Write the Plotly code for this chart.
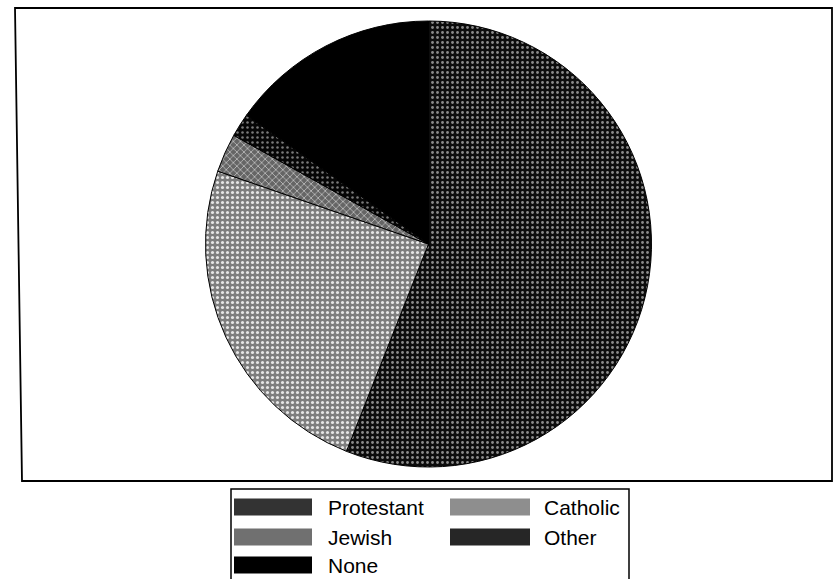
import plotly.graph_objects as go

W, H = 833, 579

# ---- data ----
labels = ["Protestant", "Catholic", "Jewish", "Other", "None"]
values = [56.0, 24.3, 2.8, 1.7, 15.2]

# ---- styles ----
bg_colors = ["#0c0c0c", "#7e7e7e", "#656565", "#060606", "#000000"]
fg_colors = ["#8a8a8a", "#e6e6e6", "#bdbdbd", "#7a7a7a", "#000000"]
shapes_pat = [".", ".", "x", ".", ""]
solid = [0.25, 0.3, 0.3, 0.2, 0.3]
swatch_fill = ["#333333", "#8e8e8e", "#707070", "#262626", "#000000"]


def px(x):
    return x / W


def py(y):
    return 1 - y / H


fig = go.Figure()
fig.add_trace(go.Pie(
    labels=labels,
    values=values,
    sort=False,
    direction="clockwise",
    rotation=0,
    textinfo="none",
    hoverinfo="label+percent",
    showlegend=False,
    marker=dict(
        colors=bg_colors,
        line=dict(color="black", width=1),
        pattern=dict(shape=shapes_pat, fgcolor=fg_colors, bgcolor=bg_colors,
                     size=5, solidity=solid, fillmode="replace"),
    ),
    domain=dict(x=[px(205.5), px(651.5)], y=[py(467), py(21)]),
))

shapes = []
# outer frame (slightly skewed like the scan)
shapes.append(dict(type="path", xref="paper", yref="paper",
                   path=f"M {px(15)},{py(8)} L {px(832)},{py(8)} L {px(832)},{py(481)} L {px(22)},{py(481)} Z",
                   line=dict(color="black", width=1.8)))
# legend box
shapes.append(dict(type="rect", xref="paper", yref="paper",
                   x0=px(231), x1=px(629), y0=py(489), y1=py(582),
                   line=dict(color="black", width=1.5)))

annotations = []
col_x = [(234, 312, 326), (450, 530, 542)]
row_y = [507, 537, 565]
for i, lab in enumerate(labels):
    r, c = divmod(i, 2)
    sx0, sx1, tx = col_x[c]
    yc = row_y[r]
    shapes.append(dict(type="rect", xref="paper", yref="paper",
                       x0=px(sx0), x1=px(sx1), y0=py(yc + 8.5), y1=py(yc - 8.5),
                       fillcolor=swatch_fill[i], line=dict(width=0)))
    annotations.append(dict(x=px(tx), y=py(yc), xref="paper", yref="paper",
                            text=lab, showarrow=False, xanchor="left", yanchor="middle",
                            font=dict(family="Liberation Sans, Arial, sans-serif", size=21, color="black")))

fig.update_layout(
    width=W, height=H,
    margin=dict(l=0, r=0, t=0, b=0),
    paper_bgcolor="white",
    plot_bgcolor="white",
    shapes=shapes,
    annotations=annotations,
    showlegend=False,
)

fig.write_html("out.html")
